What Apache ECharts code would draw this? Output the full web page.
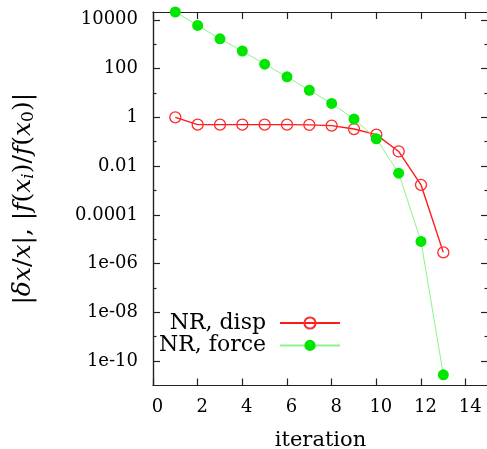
<!DOCTYPE html>
<html><head><meta charset="utf-8">
<script src="https://cdn.jsdelivr.net/npm/echarts@6/dist/echarts.min.js"></script>
<style>html,body{margin:0;padding:0;background:#fff}#c{width:487px;height:449px}</style>
</head><body><div id="c"></div>
<script>
const iterations = [1,2,3,4,5,6,7,8,9,10,11,12,13];
const dispValues = [1.0, 0.5, 0.5, 0.5, 0.5, 0.5, 0.49, 0.457, 0.331, 0.195, 0.0398, 0.0017, 2.88e-6];
const forceValues = [2.09e4, 5.89e3, 1.66e3, 525, 151, 45.7, 12.9, 3.72, 0.851, 0.132, 5.13e-3, 8.13e-6, 2.75e-11];
const xTicks = [0,2,4,6,8,10,12,14];
const yMajorExp = [4,2,0,-2,-4,-6,-8,-10];
const yTickLabels = ['10000','100','1','0.01','0.0001','1e-06','1e-08','1e-10'];
const yMinorExp = [3,1,-1,-3,-5,-7,-9];
const yMinExp = -11, yMaxExp = 4.32;

const FONT = 'DejaVu Serif';
const AX = '#222';
const labelMap = {};
yMajorExp.forEach((e,i)=>labelMap[e]=yTickLabels[i]);

function xAx(pos, labels){
  return {type:'value', position:pos, min:0, max:15,
    axisLine:{show:true, onZero:false, lineStyle:{color:AX, width:1.2}},
    axisTick:{show:true, inside:true, length:7, customValues:xTicks, lineStyle:{color:AX, width:1.2}},
    axisLabel:{show:labels, customValues:xTicks, margin:13, padding:[0,0,0,9], color:'#000', fontFamily:FONT, fontSize:18},
    splitLine:{show:false},
    name: labels ? 'iteration' : '', nameLocation:'middle', nameGap:45,
    nameTextStyle:{color:'#000', fontFamily:FONT, fontSize:21}
  };
}
function yAx(pos, major, withLabels, withName){
  return {type:'value', position:pos, min:yMinExp, max:yMaxExp,
    axisLine:{show:true, onZero:false, lineStyle:{color:AX, width:1.2}},
    axisTick:{show:true, inside:true, length: major?7:3.5, customValues: major?yMajorExp:yMinorExp, lineStyle:{color:AX, width:1.2}},
    axisLabel:{show:withLabels, customValues:yMajorExp, margin:15, color:'#000', fontFamily:FONT, fontSize:18,
      formatter:(v)=>labelMap[Math.round(v)] || ''},
    splitLine:{show:false},
    name: withName ? '{u||}{m|δx}{u|/}{m|x}{u||, |}{m|f}{u|(}{m|x}{s|i}{u|)/}{m|f}{u|(}{m|x}{t|0}{u|)|}' : '',
    nameLocation:'middle', nameGap:116,
    nameTextStyle:{color:'#000', fontFamily:FONT, fontSize:25,
      rich:{
        u:{fontFamily:FONT, fontSize:25, lineHeight:28, color:'#000'},
        m:{fontFamily:FONT, fontSize:25, fontStyle:'italic', lineHeight:28, color:'#000'},
        s:{fontFamily:FONT, fontSize:17, fontStyle:'italic', lineHeight:17, verticalAlign:'bottom', color:'#000'},
        t:{fontFamily:FONT, fontSize:17, lineHeight:17, verticalAlign:'bottom', color:'#000'}
      }}
  };
}

const chart = echarts.init(document.getElementById('c'), null, {renderer:'canvas'});
chart.setOption({
  animation:false,
  backgroundColor:'#fff',
  grid:{left:153, top:12, width:335, height:373.5, containLabel:false, outerBoundsMode:'none'},
  legend:{
    orient:'vertical', align:'right', right:146, top:312, padding:0, itemGap:0.4,
    itemWidth:60, itemHeight:14,
    textStyle:{fontFamily:FONT, fontSize:22, lineHeight:22, color:'#000', padding:[0,9,0,0]},
    data:['NR, disp','NR, force']
  },
  xAxis:[xAx('bottom', true), xAx('top', false)],
  yAxis:[yAx('left', true, true, true), yAx('left', false, false, false), yAx('right', true, false, false), yAx('right', false, false, false)],
  series:[
    {name:'NR, disp', type:'line', xAxisIndex:0, yAxisIndex:0, clip:false,
     data: iterations.map((x,i)=>[x, Math.log10(dispValues[i])]),
     symbol:'circle', symbolSize:11,
     lineStyle:{color:'#ff1a1a', width:1.4},
     itemStyle:{color:'rgba(255,255,255,0)', borderColor:'#ff2a2a', borderWidth:1.3}},
    {name:'NR, force', type:'line', xAxisIndex:0, yAxisIndex:0, clip:false,
     data: iterations.map((x,i)=>[x, Math.log10(forceValues[i])]),
     symbol:'circle', symbolSize:11,
     lineStyle:{color:'#8af58a', width:1},
     itemStyle:{color:'#00e600', borderWidth:0}}
  ]
});
</script></body></html>
